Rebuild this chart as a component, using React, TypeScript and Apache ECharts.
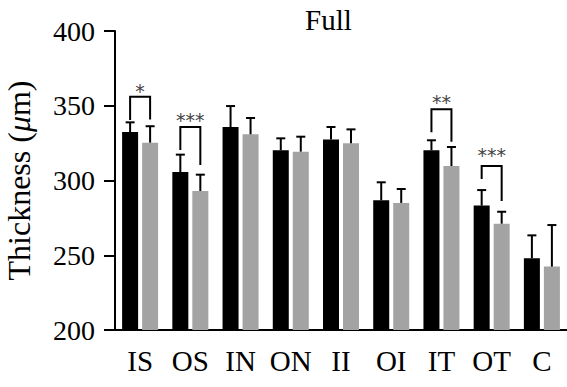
import React, { useEffect, useRef } from "react";
import * as echarts from "echarts";

const categories = ["IS", "OS", "IN", "ON", "II", "OI", "IT", "OT", "C"];
const groupA = [332.4, 305.7, 335.8, 320.2, 327.5, 286.8, 320.2, 283.2, 248.0];
const groupAErr = [6.5, 11.6, 14.0, 8.0, 8.3, 12.0, 6.7, 10.4, 15.3];
const groupB = [325.3, 293.0, 330.9, 319.3, 324.9, 285.0, 309.7, 271.1, 242.4];
const groupBErr = [11.0, 10.9, 10.9, 10.0, 9.3, 9.3, 12.7, 8.0, 27.8];
const yTicks = [200, 250, 300, 350, 400];

// significance brackets: category index, bracket top, left leg end, right leg end, star position
const bracketCat = [0, 1, 6, 7];
const bracketTop = [356.1, 335.8, 347.6, 309.7];
const bracketLeft = [340.5, 320.4, 332.2, 301.0];
const bracketRight = [340.8, 310.4, 326.0, 286.3];
const bracketStarY = [361.9, 342.5, 354.5, 319.3];
const bracketStars = ["*", "***", "**", "***"];

const BAR_W = 16;
const BAR_GAP = 4;
const OFF = (BAR_W + BAR_GAP) / 2;
const SERIF = "Liberation Serif";

function errorSeries(means: number[], errs: number[], offset: number) {
  return {
    type: "custom",
    z: 5,
    clip: false,
    renderItem: (params: any, api: any) => {
      const idx = api.value(0);
      const p0 = api.coord([idx, api.value(1)]);
      const p1 = api.coord([idx, api.value(2)]);
      const x = p0[0] + offset;
      return {
        type: "group",
        children: [
          {
            type: "line",
            shape: { x1: x, y1: p0[1], x2: x, y2: p1[1] },
            style: { stroke: "#000", lineWidth: 2 },
          },
          {
            type: "line",
            shape: { x1: x - 4.5, y1: p1[1], x2: x + 4.5, y2: p1[1] },
            style: { stroke: "#000", lineWidth: 2 },
          },
        ],
      };
    },
    data: means.map((m, i) => [i, m, m + errs[i]]),
  };
}

export default function App() {
  const ref = useRef<HTMLDivElement>(null);
  useEffect(() => {
    if (!ref.current) return;
    const chart = echarts.init(ref.current, undefined, { renderer: "svg" });
    chart.setOption({
      animation: false,
      backgroundColor: "#fff",
      title: {
        text: "Full",
        left: 300,
        top: 0,
        textStyle: { fontFamily: SERIF, fontSize: 29, fontWeight: "normal", color: "#000" },
      },
      grid: { left: 115, right: 0, top: 31, bottom: 57, containLabel: false, outerBoundsMode: "none" },
      xAxis: {
        type: "category",
        data: categories,
        axisLine: { lineStyle: { color: "#000", width: 2 } },
        axisTick: { alignWithLabel: true, length: 10, lineStyle: { color: "#000", width: 2 } },
        axisLabel: {
          interval: 0,
          hideOverlap: false,
          fontFamily: SERIF,
          fontSize: 29,
          color: "#000",
          margin: 16,
        },
      },
      yAxis: {
        type: "value",
        min: yTicks[0],
        max: yTicks[yTicks.length - 1],
        interval: 50,
        name: "Thickness ({i|μ}m)",
        nameLocation: "middle",
        nameGap: 80,
        nameTextStyle: {
          fontFamily: SERIF,
          fontSize: 32,
          color: "#000",
          rich: { i: { fontFamily: SERIF, fontSize: 32, fontStyle: "italic", color: "#000" } },
        },
        axisLine: { show: true, lineStyle: { color: "#000", width: 2 } },
        axisTick: { show: true, length: 11, lineStyle: { color: "#000", width: 2 } },
        splitLine: { show: false },
        axisLabel: { fontFamily: SERIF, fontSize: 28, color: "#000", margin: 20 },
      },
      series: [
        {
          type: "bar",
          data: groupA,
          barWidth: BAR_W,
          barGap: "25%",
          clip: true,
          itemStyle: { color: "#000" },
        },
        {
          type: "bar",
          data: groupB,
          barWidth: BAR_W,
          barGap: "25%",
          clip: true,
          itemStyle: { color: "#a3a3a3" },
        },
        errorSeries(groupA, groupAErr, -OFF),
        errorSeries(groupB, groupBErr, OFF),
        {
          type: "custom",
          z: 6,
          clip: false,
          renderItem: (params: any, api: any) => {
            const idx = api.value(0);
            const pt = api.coord([idx, api.value(1)]);
            const yl = api.coord([idx, api.value(2)])[1];
            const yr = api.coord([idx, api.value(3)])[1];
            const ys = api.coord([idx, api.value(4)])[1];
            const xl = pt[0] - OFF;
            const xr = pt[0] + OFF;
            return {
              type: "group",
              children: [
                {
                  type: "polyline",
                  shape: { points: [[xl, yl], [xl, pt[1]], [xr, pt[1]], [xr, yr]] },
                  style: { stroke: "#000", lineWidth: 2, fill: "none" },
                },
                {
                  type: "text",
                  x: pt[0],
                  y: ys + 3,
                  style: {
                    text: bracketStars[params.dataIndex],
                    fontFamily: "DejaVu Sans",
                    fontSize: 19,
                    fill: "#444",
                    align: "center",
                    verticalAlign: "middle",
                  },
                },
              ],
            };
          },
          data: bracketCat.map((c, i) => [c, bracketTop[i], bracketLeft[i], bracketRight[i], bracketStarY[i]]),
        },
      ],
    });
    return () => chart.dispose();
  }, []);
  return (
    <div
      ref={ref}
      style={{ position: "fixed", left: 0, top: 0, width: 567, height: 387 }}
    />
  );
}
